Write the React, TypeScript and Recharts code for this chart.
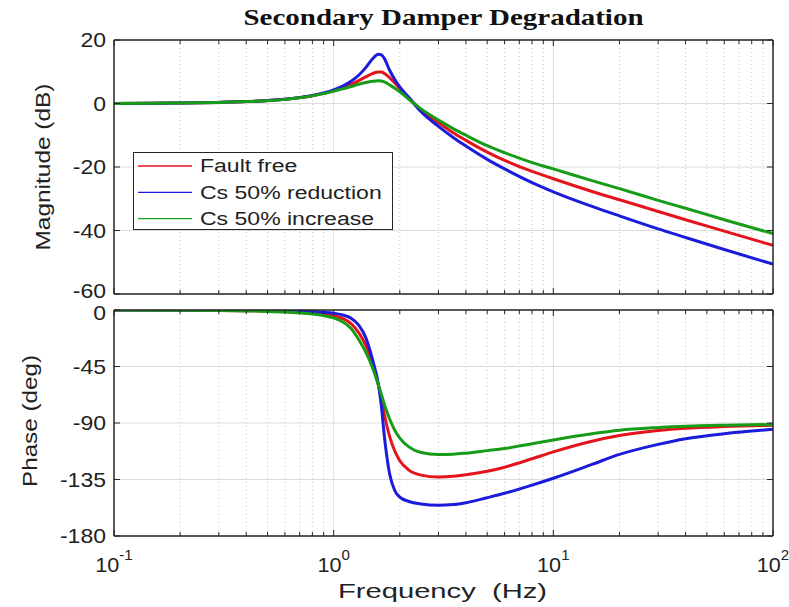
import React from 'react';
import { LineChart, Line, XAxis, YAxis, CartesianGrid, Legend } from 'recharts';

const W = 789;
const H = 607;

const frequencyHz = [0.1, 0.15, 0.2, 0.3, 0.4, 0.5, 0.6, 0.7, 0.8, 0.9, 1.0, 1.1, 1.2, 1.3, 1.4, 1.5, 1.6, 1.65, 1.7, 1.8, 1.9, 2.0, 2.2, 2.5, 3.0, 3.5, 4, 5, 6, 8, 10, 15, 20, 30, 40, 60, 100];

const magnitudeFaultFree = [0.0, 0.1, 0.15, 0.35, 0.6, 0.95, 1.35, 1.85, 2.45, 3.2, 4.0, 4.95, 6.0, 7.2, 8.4, 9.4, 9.95, 9.9, 9.5, 8.1, 6.4, 4.8, 1.7, -2.1, -6.0, -9.2, -11.6, -15.3, -17.9, -21.4, -23.7, -27.7, -30.3, -34.0, -36.6, -40.2, -44.7];
const magnitudeCsReduction = [0.0, 0.1, 0.15, 0.35, 0.6, 0.95, 1.35, 1.9, 2.55, 3.35, 4.3, 5.5, 7.0, 8.9, 11.3, 14.0, 15.5, 15.3, 14.2, 10.4, 7.5, 5.2, 1.9, -2.6, -7.2, -10.7, -13.4, -17.6, -20.6, -24.9, -27.8, -32.4, -35.4, -39.5, -42.2, -46.0, -50.6];
const magnitudeCsIncrease = [0.0, 0.1, 0.15, 0.35, 0.6, 0.9, 1.3, 1.8, 2.4, 3.1, 3.9, 4.6, 5.35, 6.05, 6.6, 7.0, 7.2, 7.1, 6.8, 5.8, 4.8, 3.7, 1.3, -1.7, -5.2, -7.9, -10.0, -13.3, -15.5, -18.6, -20.6, -24.3, -26.8, -30.5, -33.0, -36.6, -41.0];

const phaseFaultFree = [0, -0.05, -0.1, -0.3, -0.5, -0.8, -1.2, -1.7, -2.4, -3.2, -4.3, -6.8, -10.8, -18, -28, -42, -60, -71, -83, -101, -112.5, -120, -127.5, -131.5, -133, -132.5, -131.3, -128.5, -125.2, -118.5, -113, -104.5, -100, -96, -94.2, -92.8, -91.8];
const phaseCsReduction = [0, -0.05, -0.1, -0.2, -0.3, -0.4, -0.6, -0.9, -1.3, -1.8, -2.5, -4.0, -6.5, -12, -22, -39, -60, -77, -100, -131, -144, -149, -152.5, -154.5, -155.5, -155, -153.5, -149.5, -146, -139.5, -134, -123, -115, -107, -102.5, -98.5, -95];
const phaseCsIncrease = [0, -0.1, -0.15, -0.4, -0.7, -1.1, -1.6, -2.3, -3.2, -4.5, -6.3, -9.5, -14.7, -23.5, -33.5, -45.5, -60, -67.5, -75, -87, -96, -102, -109, -113.5, -115, -114.8, -114, -112, -110.3, -106.5, -103.5, -98.6, -95.8, -93.6, -92.5, -91.7, -91.2];

const seriesNames = ['Fault free', 'Cs 50% reduction', 'Cs 50% increase'];
const seriesColors = ['#e4141c', '#1b1bdc', '#179c17'];

const majorFreqTicks = [0.1, 1, 10, 100];
const majorFreqExponents = ['-1', '0', '1', '2'];
const minorFreqTicks = [0.2, 0.3, 0.4, 0.5, 0.6, 0.7, 0.8, 0.9, 2, 3, 4, 5, 6, 7, 8, 9, 20, 30, 40, 50, 60, 70, 80, 90];
const allFreqTicks = [...majorFreqTicks, ...minorFreqTicks].sort((a, b) => a - b);
const innerMajorFreq = [1, 10];
const magnitudeTicks = [-60, -40, -20, 0, 20];
const phaseTicks = [-180, -135, -90, -45, 0];

const sansFont = '"Liberation Sans", Arial, Helvetica, sans-serif';
const serifFont = '"Liberation Serif", "Times New Roman", serif';
const ink = '#262626';

const makeXTick = (side: 'bottom' | 'top', labels: boolean) => (props: any) => {
  const { x, y, payload } = props;
  const v = payload.value;
  const mi = majorFreqTicks.indexOf(v);
  const len = mi >= 0 ? 6 : 4;
  const dir = side === 'bottom' ? -1 : 1;
  return (
    <g>
      <line x1={x} y1={y} x2={x} y2={y + dir * len} stroke={ink} strokeWidth={1} />
      {labels && mi >= 0 && (
        <text transform={`translate(${x}, ${y + 35.5}) scale(1.08, 1)`} textAnchor="middle" fontFamily={sansFont} fontSize={20} fill="#222">
          10<tspan dy={-12} fontSize={14}>{majorFreqExponents[mi]}</tspan>
        </text>
      )}
    </g>
  );
};

const makeYTick = (side: 'left' | 'right', labels: boolean, nudgeValue?: number, nudge = 0) => (props: any) => {
  const { x, y, payload } = props;
  const dir = side === 'left' ? 1 : -1;
  const ny = payload.value === nudgeValue ? nudge : 0;
  return (
    <g>
      <line x1={x} y1={y} x2={x + dir * 6} y2={y} stroke={ink} strokeWidth={1} />
      {labels && (
        <text transform={`translate(${x - 8}, ${y + ny}) scale(1.15, 1)`} dy="0.36em" textAnchor="end" fontFamily={sansFont} fontSize={20} fill="#222">
          {String(payload.value)}
        </text>
      )}
    </g>
  );
};

const renderLegend = (props: any) => {
  const items = ([...(props.payload || [])] as any[]).sort(
    (a, b) => seriesNames.indexOf(a.value) - seriesNames.indexOf(b.value)
  );
  return (
    <div style={{ width: 260, height: 78, border: `1px solid ${ink}`, background: '#fff', boxSizing: 'border-box' }}>
      <svg width={258} height={76} style={{ display: 'block' }}>
        {items.map((it, i) => {
          const cy = 13 + i * 26.3;
          return (
            <g key={i}>
              <line x1={4} x2={58} y1={cy} y2={cy} stroke={it.color} strokeWidth={1.3} />
              <text transform={`translate(66, ${cy}) scale(1.28, 1)`} dy="0.36em" fontFamily={sansFont} fontSize={18} fill="#222">
                {it.value}
              </text>
            </g>
          );
        })}
      </svg>
    </div>
  );
};

const axesFor = (yTicks: number[], yDomain: [number, number], showXLabels: boolean, nudgeValue: number, nudge: number) => [
  <XAxis key="xb" xAxisId={0} dataKey="f" type="number" scale="log" domain={[0.1, 100]} allowDataOverflow ticks={allFreqTicks} interval={0} height={1} tickSize={0} tickMargin={0} tickLine={false} axisLine={{ stroke: ink, strokeWidth: 1.5 }} tick={makeXTick('bottom', showXLabels)} />,
  <XAxis key="xt" xAxisId="top" orientation="top" dataKey="f" type="number" scale="log" domain={[0.1, 100]} allowDataOverflow ticks={allFreqTicks} interval={0} height={1} tickSize={0} tickMargin={0} tickLine={false} axisLine={{ stroke: ink, strokeWidth: 1.5 }} tick={makeXTick('top', false)} />,
  <YAxis key="yl" yAxisId={0} type="number" domain={yDomain} allowDataOverflow ticks={yTicks} interval={0} width={1} tickSize={0} tickMargin={0} tickLine={false} axisLine={{ stroke: ink, strokeWidth: 1.5 }} tick={makeYTick('left', true, nudgeValue, nudge)} />,
  <YAxis key="yr" yAxisId="right" orientation="right" type="number" domain={yDomain} allowDataOverflow ticks={yTicks} interval={0} width={1} tickSize={0} tickMargin={0} tickLine={false} axisLine={{ stroke: ink, strokeWidth: 1.5 }} tick={makeYTick('right', false)} />,
];

const gridsFor = (yTicks: number[]) => [
  <CartesianGrid key="gminor" horizontal={false} vertical verticalValues={minorFreqTicks} stroke="#c4c4c4" strokeDasharray="1 3" />,
  <CartesianGrid key="gmajor" horizontal vertical horizontalValues={yTicks} verticalValues={innerMajorFreq} stroke="#dcdcdc" />,
];

export default function App() {
  const magnitudeData = frequencyHz.map((f, i) => ({
    f,
    ff: magnitudeFaultFree[i],
    red: magnitudeCsReduction[i],
    inc: magnitudeCsIncrease[i],
  }));
  const phaseData = frequencyHz.map((f, i) => ({
    f,
    ff: phaseFaultFree[i],
    red: phaseCsReduction[i],
    inc: phaseCsIncrease[i],
  }));
  const keys = ['ff', 'red', 'inc'];

  return (
    <div style={{ position: 'absolute', left: 0, top: 0, width: W, height: H, background: '#fff', overflow: 'hidden' }}>
      <div style={{ position: 'absolute', left: 0, top: 0 }}>
        <LineChart width={W} height={H} data={magnitudeData} margin={{ top: 39, right: 15, bottom: 312, left: 113 }}>
          {gridsFor(magnitudeTicks)}
          {axesFor(magnitudeTicks, [-60, 20], false, -60, -3)}
          {keys.map((k, i) => (
            <Line key={k} dataKey={k} name={seriesNames[i]} type="monotone" stroke={seriesColors[i]} strokeWidth={3} dot={false} activeDot={false} isAnimationActive={false} />
          ))}
          <Legend
            layout="vertical"
            align="center"
            verticalAlign="middle"
            content={renderLegend}
            wrapperStyle={{ position: 'absolute', left: 133, top: 152, width: 260, height: 78 }}
          />
        </LineChart>
      </div>
      <div style={{ position: 'absolute', left: 0, top: 0 }}>
        <LineChart width={W} height={H} data={phaseData} margin={{ top: 309, right: 15, bottom: 70, left: 113 }}>
          {gridsFor(phaseTicks)}
          {axesFor(phaseTicks, [-180, 0], true, 0, 3)}
          {keys.map((k, i) => (
            <Line key={k} dataKey={k} name={seriesNames[i]} type="monotone" stroke={seriesColors[i]} strokeWidth={3} dot={false} activeDot={false} isAnimationActive={false} legendType="none" />
          ))}
        </LineChart>
      </div>
      <svg width={W} height={H} style={{ position: 'absolute', left: 0, top: 0, pointerEvents: 'none' }}>
        <text x={443.5} y={25} textAnchor="middle" fontFamily={serifFont} fontWeight="bold" fontSize={23} fill="#111" textLength={400} lengthAdjust="spacingAndGlyphs">
          Secondary Damper Degradation
        </text>
        <text transform="translate(50, 167) rotate(-90)" textAnchor="middle" fontFamily={sansFont} fontSize={20} fill="#222" textLength={167} lengthAdjust="spacingAndGlyphs">
          Magnitude (dB)
        </text>
        <text transform="translate(37, 421) rotate(-90)" textAnchor="middle" fontFamily={sansFont} fontSize={20} fill="#222" textLength={132} lengthAdjust="spacingAndGlyphs">
          Phase (deg)
        </text>
        <text x={442.5} y={598} textAnchor="middle" fontFamily={sansFont} fontSize={20} fill="#222" textLength={209} lengthAdjust="spacingAndGlyphs" style={{ whiteSpace: 'pre' }}>
          {'Frequency  (Hz)'}
        </text>
      </svg>
    </div>
  );
}
